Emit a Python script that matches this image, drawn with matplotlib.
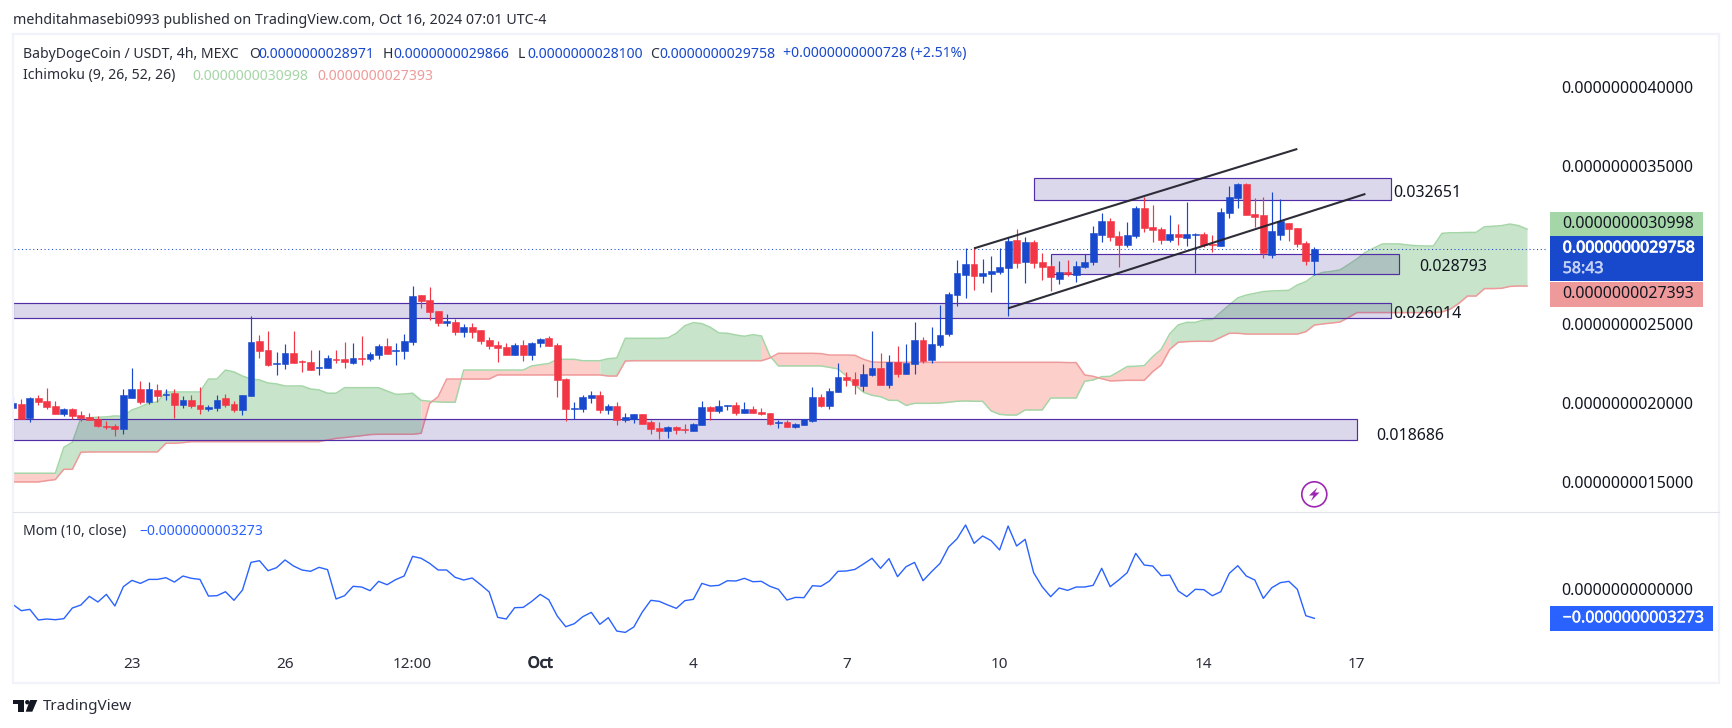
import numpy as np
import matplotlib
matplotlib.use("Agg")
import matplotlib.pyplot as plt
import matplotlib.patheffects as pe
from matplotlib.patches import Rectangle, Circle, Polygon
from matplotlib.transforms import Affine2D

plt.rcParams['font.family'] = ['Noto Sans', 'DejaVu Sans']

# prices in units of 1e-9 USDT, bars start at index -1 (cut by the left edge)
opens = [1.967,
    1.992, 1.903, 2.030, 2.011, 1.979, 1.929, 1.960, 1.922, 1.910, 1.897,
    1.855, 1.853, 1.834, 2.030, 2.087, 2.005, 2.081, 2.051, 2.062, 1.986,
    2.017, 1.986, 1.960, 1.967, 2.030, 1.992, 1.954, 2.043, 2.391, 2.334,
    2.245, 2.245, 2.315, 2.266, 2.258, 2.220, 2.220, 2.277, 2.277, 2.252,
    2.283, 2.277, 2.302, 2.359, 2.328, 2.328, 2.385, 2.683, 2.651, 2.581,
    2.505, 2.512, 2.448, 2.480, 2.461, 2.397, 2.366, 2.353, 2.302, 2.366,
    2.302, 2.378, 2.410, 2.366, 2.150, 1.962, 1.960, 2.030, 2.049, 1.954,
    1.979, 1.891, 1.897, 1.929, 1.878, 1.840, 1.821, 1.846, 1.834, 1.821,
    1.859, 1.973, 1.948, 1.979, 1.986, 1.935, 1.960, 1.941, 1.935, 1.872,
    1.878, 1.846, 1.859, 1.884, 2.036, 1.979, 2.068, 2.163, 2.150, 2.106,
    2.176, 2.220, 2.112, 2.258, 2.182, 2.245, 2.397, 2.271, 2.366, 2.436,
    2.683, 2.809, 2.879, 2.803, 2.815, 2.828, 2.853, 3.031, 2.891, 3.018,
    2.891, 2.866, 2.784, 2.828, 2.809, 2.860, 2.891, 3.062, 3.151, 3.056,
    2.999, 3.056, 3.233, 3.113, 3.100, 3.031, 3.069, 3.043, 3.062, 3.069,
    3.005, 2.993, 3.202, 3.297, 3.386, 3.196, 3.189, 2.936, 3.062, 3.138,
    3.107, 3.012, 2.8971]
highs = [2.036,
    2.024, 2.036, 2.049, 2.093, 2.011, 1.967, 1.967, 1.948, 1.935, 1.916,
    1.884, 1.865, 2.087, 2.220, 2.138, 2.131, 2.119, 2.087, 2.087, 2.043,
    2.049, 2.100, 1.986, 2.049, 2.055, 2.011, 2.049, 2.550, 2.429, 2.454,
    2.321, 2.372, 2.454, 2.271, 2.334, 2.334, 2.302, 2.334, 2.385, 2.378,
    2.423, 2.321, 2.372, 2.410, 2.378, 2.436, 2.740, 2.683, 2.733, 2.581,
    2.562, 2.531, 2.499, 2.505, 2.461, 2.416, 2.391, 2.378, 2.378, 2.397,
    2.385, 2.410, 2.423, 2.378, 2.157, 2.005, 2.049, 2.074, 2.074, 1.992,
    2.005, 1.935, 1.929, 1.929, 1.891, 1.878, 1.853, 1.853, 1.865, 1.872,
    2.011, 1.979, 2.017, 1.986, 2.005, 2.005, 1.979, 1.967, 1.935, 1.891,
    1.891, 1.872, 1.897, 2.100, 2.055, 2.093, 2.252, 2.195, 2.195, 2.245,
    2.454, 2.315, 2.302, 2.359, 2.372, 2.512, 2.416, 2.480, 2.619, 2.702,
    2.904, 2.978, 2.989, 2.910, 2.929, 2.980, 3.048, 3.100, 3.048, 3.031,
    2.948, 2.879, 2.898, 2.904, 2.898, 2.942, 3.119, 3.202, 3.170, 3.088,
    3.145, 3.246, 3.303, 3.253, 3.113, 3.189, 3.132, 3.272, 3.073, 3.081,
    3.062, 3.233, 3.373, 3.392, 3.392, 3.297, 3.303, 3.335, 3.291, 3.138,
    3.107, 3.024, 2.9866]
lows = [1.967,
    1.897, 1.878, 1.986, 1.960, 1.929, 1.916, 1.897, 1.884, 1.891, 1.846,
    1.834, 1.789, 1.802, 2.030, 1.992, 1.992, 2.005, 2.017, 1.903, 1.967,
    1.967, 1.929, 1.948, 1.948, 1.973, 1.941, 1.922, 2.043, 2.283, 2.233,
    2.176, 2.214, 2.252, 2.195, 2.207, 2.176, 2.220, 2.252, 2.220, 2.245,
    2.239, 2.264, 2.277, 2.309, 2.239, 2.277, 2.366, 2.600, 2.524, 2.486,
    2.486, 2.429, 2.416, 2.410, 2.372, 2.340, 2.258, 2.302, 2.302, 2.264,
    2.271, 2.353, 2.359, 2.036, 1.884, 1.897, 1.941, 1.998, 1.935, 1.929,
    1.859, 1.878, 1.872, 1.865, 1.802, 1.770, 1.777, 1.802, 1.808, 1.821,
    1.859, 1.891, 1.935, 1.954, 1.922, 1.935, 1.935, 1.922, 1.859, 1.840,
    1.846, 1.840, 1.859, 1.878, 1.973, 1.960, 2.068, 2.106, 2.055, 2.074,
    2.169, 2.112, 2.093, 2.163, 2.182, 2.182, 2.252, 2.252, 2.353, 2.423,
    2.613, 2.663, 2.714, 2.758, 2.701, 2.815, 2.549, 2.853, 2.758, 2.853,
    2.777, 2.708, 2.752, 2.803, 2.765, 2.853, 2.872, 3.018, 3.024, 2.860,
    2.986, 3.043, 3.081, 3.018, 3.005, 3.018, 2.999, 2.993, 2.822, 2.986,
    2.955, 2.993, 3.170, 3.233, 3.189, 3.113, 2.917, 2.917, 3.031, 3.024,
    2.986, 2.872, 2.81]
closes = [1.998,
    1.897, 2.030, 2.005, 1.973, 1.929, 1.960, 1.916, 1.903, 1.891, 1.853,
    1.846, 1.834, 2.049, 2.087, 2.005, 2.087, 2.043, 2.057, 1.986, 2.017,
    1.979, 1.960, 1.973, 2.017, 1.986, 1.954, 2.049, 2.385, 2.328, 2.239,
    2.252, 2.315, 2.252, 2.260, 2.207, 2.226, 2.283, 2.271, 2.258, 2.283,
    2.277, 2.309, 2.359, 2.309, 2.334, 2.391, 2.676, 2.645, 2.575, 2.505,
    2.518, 2.448, 2.480, 2.448, 2.391, 2.359, 2.347, 2.302, 2.366, 2.302,
    2.378, 2.404, 2.359, 2.144, 1.960, 1.967, 2.036, 2.049, 1.954, 1.979,
    1.891, 1.910, 1.929, 1.865, 1.834, 1.821, 1.846, 1.827, 1.827, 1.865,
    1.973, 1.948, 1.979, 1.986, 1.935, 1.960, 1.935, 1.929, 1.865, 1.878,
    1.846, 1.865, 1.897, 2.036, 1.979, 2.074, 2.163, 2.144, 2.112, 2.182,
    2.220, 2.112, 2.258, 2.182, 2.252, 2.397, 2.264, 2.372, 2.429, 2.689,
    2.822, 2.879, 2.803, 2.822, 2.834, 2.860, 3.024, 2.885, 3.018, 2.885,
    2.860, 2.796, 2.828, 2.813, 2.866, 2.891, 3.075, 3.151, 3.050, 2.999,
    3.062, 3.233, 3.107, 3.094, 3.031, 3.069, 3.050, 3.069, 3.069, 2.999,
    2.999, 3.208, 3.303, 3.386, 3.189, 3.176, 2.948, 3.088, 3.151, 3.100,
    3.005, 2.898, 2.9758]

# ichimoku leading spans, run 26 bars past the last candle
span_a = [1.553, 1.553, 1.553, 1.553, 1.553, 1.553,
    1.717, 1.749, 1.901, 1.905, 1.908, 1.910, 1.916, 1.914, 1.954, 1.973,
    1.998, 2.005, 2.068, 2.068, 2.068, 2.068, 2.068, 2.150, 2.150, 2.207,
    2.195, 2.169, 2.150, 2.144, 2.125, 2.119, 2.106, 2.106, 2.106, 2.087,
    2.081, 2.060, 2.060, 2.095, 2.095, 2.095, 2.095, 2.095, 2.074, 2.053,
    2.055, 2.060, 2.015, 2.009, 2.005, 2.003, 2.003, 2.207, 2.207, 2.207,
    2.207, 2.207, 2.207, 2.207, 2.207, 2.233, 2.241, 2.248, 2.275, 2.275,
    2.275, 2.266, 2.266, 2.266, 2.279, 2.283, 2.408, 2.408, 2.408, 2.408,
    2.408, 2.410, 2.440, 2.488, 2.507, 2.501, 2.478, 2.442, 2.440, 2.429,
    2.421, 2.431, 2.423, 2.296, 2.233, 2.233, 2.233, 2.233, 2.233, 2.233,
    2.224, 2.214, 2.169, 2.112, 2.066, 2.047, 2.038, 2.015, 2.015, 1.983,
    1.996, 1.996, 1.996, 1.998, 2.003, 2.009, 2.011, 2.009, 2.009, 1.948,
    1.926, 1.922, 1.922, 1.954, 1.954, 1.954, 2.030, 2.030, 2.030, 2.030,
    2.136, 2.144, 2.165, 2.167, 2.197, 2.229, 2.231, 2.235, 2.292, 2.338,
    2.436, 2.493, 2.509, 2.509, 2.524, 2.526, 2.573, 2.619, 2.664, 2.682,
    2.693, 2.704, 2.708, 2.710, 2.712, 2.746, 2.767, 2.807, 2.826, 2.832,
    2.841, 2.875, 2.911, 2.953, 2.980, 3.006, 3.006, 3.006, 2.999, 2.995,
    2.993, 2.993, 3.073, 3.077, 3.077, 3.079, 3.079, 3.115, 3.118, 3.122,
    3.132, 3.122, 3.0998]
span_b = [1.498, 1.498, 1.498, 1.498, 1.506, 1.513,
    1.578, 1.578, 1.686, 1.688, 1.688, 1.688, 1.688, 1.688, 1.688, 1.688,
    1.688, 1.688, 1.743, 1.743, 1.747, 1.753, 1.753, 1.753, 1.753, 1.753,
    1.753, 1.753, 1.753, 1.753, 1.753, 1.753, 1.753, 1.753, 1.753, 1.753,
    1.753, 1.764, 1.774, 1.779, 1.785, 1.791, 1.798, 1.800, 1.800, 1.800,
    1.800, 1.800, 1.806, 1.996, 2.038, 2.150, 2.150, 2.150, 2.150, 2.150,
    2.150, 2.176, 2.176, 2.176, 2.176, 2.176, 2.176, 2.176, 2.176, 2.176,
    2.176, 2.176, 2.176, 2.176, 2.169, 2.169, 2.264, 2.266, 2.266, 2.266,
    2.266, 2.266, 2.266, 2.266, 2.266, 2.266, 2.266, 2.266, 2.266, 2.266,
    2.266, 2.266, 2.266, 2.283, 2.313, 2.313, 2.313, 2.313, 2.313, 2.311,
    2.302, 2.302, 2.302, 2.300, 2.275, 2.258, 2.256, 2.256, 2.256, 2.256,
    2.256, 2.256, 2.256, 2.256, 2.256, 2.256, 2.256, 2.256, 2.256, 2.256,
    2.256, 2.256, 2.256, 2.256, 2.256, 2.256, 2.256, 2.256, 2.254, 2.254,
    2.176, 2.167, 2.152, 2.138, 2.140, 2.142, 2.142, 2.142, 2.197, 2.239,
    2.338, 2.383, 2.387, 2.389, 2.389, 2.389, 2.414, 2.440, 2.440, 2.435,
    2.435, 2.435, 2.435, 2.435, 2.435, 2.435, 2.450, 2.492, 2.499, 2.505,
    2.511, 2.539, 2.571, 2.571, 2.571, 2.571, 2.571, 2.571, 2.571, 2.571,
    2.571, 2.571, 2.575, 2.594, 2.630, 2.676, 2.676, 2.723, 2.723, 2.725,
    2.737, 2.7393, 2.7393]
# the cloud colour flips at these bars, starting pink
cloud_breaks = [-1, 4, 47, 68, 87, 135, 177]

momentum = [-0.170,
    -0.241, -0.226, -0.346, -0.335, -0.343, -0.331, -0.211, -0.177, -0.079, -0.143,
    -0.057, -0.188, 0.030, 0.101, 0.067, 0.112, 0.112, 0.131, 0.082, 0.150,
    0.124, 0.112, -0.076, -0.072, -0.027, -0.124, -0.008, 0.304, 0.323, 0.210,
    0.244, 0.331, 0.263, 0.218, 0.203, 0.248, 0.222, -0.109, -0.072, 0.034,
    0.026, -0.015, 0.090, 0.052, 0.109, 0.150, 0.372, 0.350, 0.293, 0.218,
    0.218, 0.135, 0.105, 0.128, 0.052, -0.030, -0.316, -0.335, -0.207, -0.204,
    -0.136, -0.057, -0.117, -0.301, -0.422, -0.388, -0.309, -0.260, -0.395, -0.320,
    -0.471, -0.486, -0.425, -0.256, -0.124, -0.136, -0.177, -0.215, -0.128, -0.113,
    0.067, 0.037, 0.045, 0.097, 0.094, 0.124, 0.086, 0.090, 0.034, 0.000,
    -0.121, -0.091, -0.094, 0.041, 0.034, 0.094, 0.203, 0.207, 0.225, 0.286,
    0.350, 0.237, 0.346, 0.143, 0.255, 0.304, 0.097, 0.199, 0.293, 0.477,
    0.571, 0.726, 0.519, 0.602, 0.549, 0.444, 0.714, 0.489, 0.564, 0.188,
    0.030, -0.083, 0.015, -0.012, 0.026, 0.026, 0.045, 0.237, 0.030, 0.105,
    0.188, 0.406, 0.274, 0.263, 0.154, 0.161, -0.019, -0.083, 0.000, -0.004,
    -0.072, -0.027, 0.180, 0.267, 0.150, 0.105, -0.102, 0.018, 0.075, 0.090,
    0.000, -0.298, -0.3273]

# drawn zones: first bar, last bar, low, high
zone_starts = [-1, -1, 121, 119]
zone_ends = [161, 157, 162, 161]
zone_lows = [2.535, 1.762, 2.813, 3.283]
zone_highs = [2.634, 1.895, 2.940, 3.422]

# channel lines
trend_x = [[112, 150], [116, 158]]
trend_y = [[2.978, 3.608], [2.598, 3.323]]

price_ticks = [1.5, 2.0, 2.5, 3.5, 4.0]
time_tick_pos = [13, 31, 46, 61, 79, 97, 115, 139, 157]
time_tick_labels = ['23', '26', '12:00', 'Oct', '4', '7', '10', '14', '17']

last_price = 2.9758

BLUE = '#1848cc'
RED = '#f23645'
TEXT = '#131722'
GRAY = '#2a2e39'

W, H = 1732, 728
fig = plt.figure(figsize=(W / 100, H / 100), dpi=100, facecolor='white')
# reference is laid out in pixels from the top left
px = Affine2D().scale(1, -1).translate(0, H)

left, right = 13.5, 1547
ax = fig.add_axes([left / W, (H - 511) / H, (right - left) / W, (511 - 35) / H])
mom_ax = fig.add_axes([left / W, (H - 651) / H, (right - left) / W, (651 - 512) / H])

candle_x = np.arange(-1, 153)
cloud_x = np.arange(-1, 178)
o = np.array(opens)
c = np.array(closes)
up = c >= o

# cloud
a = np.array(span_a)
b = np.array(span_b)
for n, (start, end) in enumerate(zip(cloud_breaks[:-1], cloud_breaks[1:])):
    seg = (cloud_x >= start) & (cloud_x <= end)
    ax.fill_between(cloud_x[seg], a[seg], b[seg], color='#c8e4ca' if n % 2 else '#fccfcb', lw=0, zorder=1)
ax.plot(cloud_x, a, color='#a5d6a7', lw=1.1, zorder=2)
ax.plot(cloud_x, b, color='#ef9a9a', lw=1.1, zorder=2)

# zones
for x0, x1, y0, y1 in zip(zone_starts, zone_ends, zone_lows, zone_highs):
    ax.add_patch(Rectangle((x0, y0), x1 - x0, y1 - y0, facecolor=(49 / 255, 27 / 255, 146 / 255, 0.17),
                           edgecolor='#512da8', lw=0.85, zorder=3))

# candles
colors = [BLUE if u else RED for u in up]
ax.vlines(candle_x, lows, highs, colors=colors, lw=0.85, zorder=4)
ax.bar(candle_x, np.abs(c - o), bottom=np.minimum(o, c), width=0.8, color=colors,
       edgecolor=colors, lw=0.4, zorder=5)

for tx, ty in zip(trend_x, trend_y):
    ax.plot(tx, ty, color='#22222e', lw=1.5, alpha=0.95, zorder=6, solid_capstyle='butt')

ax.axhline(last_price, color=BLUE, lw=0.75, ls=(0, (1, 2.6)), zorder=2)

ax.set_xlim((left - 21.3) / 8.507, (right - 21.3) / 8.507)
ax.set_ylim(1.3137, 4.330)
ax.set_yticks(price_ticks)
ax.set_yticklabels([f"{v * 1e-9:.13f}" for v in price_ticks])
ax.yaxis.tick_right()
ax.set_xticks([])
ax.tick_params(axis='y', length=0, pad=10.6, labelsize=11.5, labelcolor=TEXT)

mom_ax.plot(candle_x, momentum, color='#2962ff', lw=1.0)
mom_ax.set_xlim(ax.get_xlim())
mom_ax.set_ylim(-0.696, 0.8725)
mom_ax.set_yticks([0])
mom_ax.set_yticklabels(['0.0000000000000'])
mom_ax.yaxis.tick_right()
mom_ax.set_xticks(time_tick_pos)
mom_ax.set_xticklabels(time_tick_labels)
mom_ax.tick_params(axis='y', length=0, pad=10.6, labelsize=11.5, labelcolor=TEXT)
mom_ax.tick_params(axis='x', length=0, pad=4, labelsize=11, labelcolor=GRAY)
# no bold cut picks up here, so thicken with a stroke
mom_ax.get_xticklabels()[3].set_path_effects([pe.withStroke(linewidth=0.7, foreground=GRAY)])

for a_ in (ax, mom_ax):
    a_.patch.set_alpha(0)
    for s in a_.spines.values():
        s.set_visible(False)


def label(x, y, s, color=GRAY, size=10.1, **kw):
    return fig.text(x, y, s, color=color, fontsize=size, transform=px, va='center', ha='left', **kw)


def box(x0, y0, x1, y1, color):
    fig.add_artist(Rectangle((x0, y0), x1 - x0, y1 - y0, transform=px, facecolor=color, edgecolor='none'))


# pane frame and separator
fig.add_artist(Rectangle((13, 34), 1706, 649, transform=px, fill=False, edgecolor='#f0f3fa', lw=1.6))
fig.add_artist(plt.Line2D([13, 1719], [511.7, 511.7], transform=px, color='#e0e3eb', lw=0.8))

# header and legends
label(13, 20, 'mehditahmasebi0993 published on TradingView.com, Oct 16, 2024 07:01 UTC-4', size=10.25)
label(23, 54, 'BabyDogeCoin / USDT, 4h, MEXC')
for x_name, name, x_val, val in [(249.4, 'O', 258, '0.0000000028971'), (383, 'H', 393, '0.0000000029866'),
                                 (518, 'L', 527, '0.0000000028100'), (650, 'C', 659.4, '0.0000000029758')]:
    label(x_name, 54, name)
    label(x_val, 54, val, color=BLUE)
label(783, 54, '+0.0000000000728 (+2.51%)', color=BLUE)
label(23, 76, 'Ichimoku (9, 26, 52, 26)')
label(192.6, 76, '0.0000000030998', color='#a5d6a7')
label(317.6, 76, '0.0000000027393', color='#ef9a9a')
label(23, 531.7, 'Mom (10, close)')
label(139.7, 531.7, '\u22120.0000000003273', color='#2962ff')

# zone labels
label(1393, 193.3, '0.032651', color=TEXT, size=11.5)
label(1419, 266.7, '0.028793', color=TEXT, size=11.5)
label(1393, 314, '0.026014', color=TEXT, size=11.5)
label(1376, 436.5, '0.018686', color=TEXT, size=11.5)

# price tags on the right scale
box(1550, 212.3, 1703, 235.7, '#a5d6a7')
box(1550, 235.7, 1703, 280.7, BLUE)
box(1550, 282.3, 1703, 306.7, '#ef9a9a')
label(1562.7, 224.3, '0.0000000030998', color=TEXT, size=11.5)
label(1562.7, 248.3, '0.0000000029758', color='white', size=11.5).set_path_effects(
    [pe.withStroke(linewidth=0.6, foreground='white')])
label(1562.7, 269, '58:43', color='#c5d2f4', size=11.5).set_path_effects(
    [pe.withStroke(linewidth=0.4, foreground='#c5d2f4')])
label(1562.7, 294.3, '0.0000000027393', color=TEXT, size=11.5)
box(1550, 606, 1713, 631, '#2962ff')
label(1562.7, 618.3, '\u22120.0000000003273', color='white', size=11.5).set_path_effects(
    [pe.withStroke(linewidth=0.3, foreground='white')])

# lightning marker
fig.add_artist(Circle((1314.3, 494.3), 12.5, transform=px, fill=False, edgecolor='#9c27b0', lw=1.2))
fig.add_artist(Polygon([(1317.5, 487.5), (1309, 495.5), (1313.5, 495.5), (1311, 501), (1319.5, 492.5), (1315, 492.5)],
                       transform=px, facecolor='#9c27b0', edgecolor='none'))

# TradingView logo
box(13.3, 700, 24.3, 704, TEXT)
box(18.3, 700, 24.3, 711.7, TEXT)
fig.add_artist(Circle((27.3, 702.2), 2.2, transform=px, facecolor=TEXT, edgecolor='none'))
fig.add_artist(Polygon([(30, 700), (37.3, 700), (32.3, 711.7), (25.7, 711.7)], transform=px, facecolor=TEXT, edgecolor='none'))
label(43.3, 706.7, 'TradingView', color=GRAY, size=11)

fig.savefig('out.png', dpi=100)
